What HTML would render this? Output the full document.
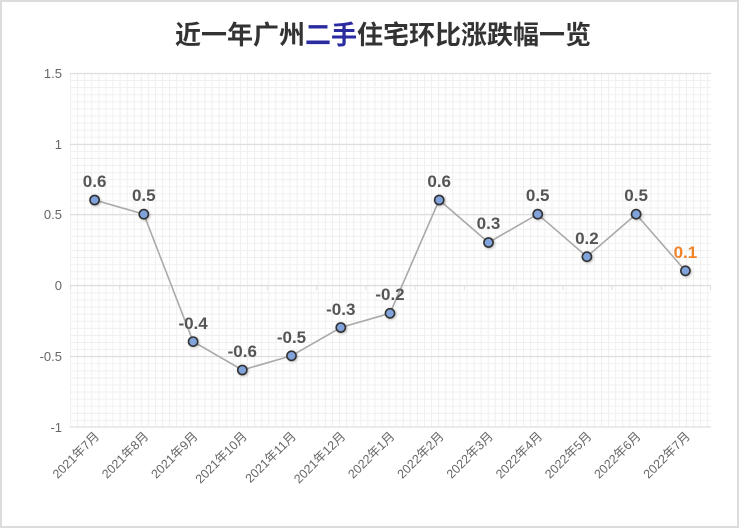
<!DOCTYPE html>
<html><head><meta charset="utf-8"><style>
html,body{margin:0;padding:0;background:#fff;}
svg{display:block;font-family:"Liberation Sans","Noto Sans CJK SC",sans-serif;}
</style></head><body>
<svg width="740" height="529" viewBox="0 0 740 529" xmlns="http://www.w3.org/2000/svg">
<defs>
<pattern id="g" x="70" y="73" width="7.08" height="7.08" patternUnits="userSpaceOnUse">
<path d="M0 0.5H7.08M0.5 0V7.08" stroke="#efefef" stroke-width="1" fill="none"/>
</pattern>
<filter id="sh" x="-50%" y="-50%" width="200%" height="200%"><feDropShadow dx="1" dy="1" stdDeviation="1" flood-color="#000" flood-opacity="0.25"/></filter>
</defs>
<rect x="1" y="1" width="737" height="526" fill="#fff" stroke="#dcdcdc" stroke-width="2"/>
<text x="383" y="44" text-anchor="middle" font-size="26" font-weight="bold" fill="#333" font-family="'Noto Sans CJK SC',sans-serif">近一年广州<tspan fill="#2b2ba0">二手</tspan>住宅环比涨跌幅一览</text>
<rect x="70" y="73" width="641" height="354" fill="url(#g)"/>
<g stroke="#dedede" stroke-width="1.2">
<line x1="70" y1="73.5" x2="711" y2="73.5"/>
<line x1="70" y1="144.5" x2="711" y2="144.5"/>
<line x1="70" y1="214.5" x2="711" y2="214.5"/>
<line x1="70" y1="285.5" x2="711" y2="285.5"/>
<line x1="70" y1="356.5" x2="711" y2="356.5"/>
<line x1="70" y1="427" x2="711" y2="427"/>
</g>
<g stroke="#dedede" stroke-width="1">
<line x1="70.5" y1="285" x2="70.5" y2="290"/><line x1="119.7" y1="285" x2="119.7" y2="290"/><line x1="168.9" y1="285" x2="168.9" y2="290"/><line x1="218.2" y1="285" x2="218.2" y2="290"/><line x1="267.4" y1="285" x2="267.4" y2="290"/><line x1="316.6" y1="285" x2="316.6" y2="290"/><line x1="365.9" y1="285" x2="365.9" y2="290"/><line x1="415.1" y1="285" x2="415.1" y2="290"/><line x1="464.3" y1="285" x2="464.3" y2="290"/><line x1="513.6" y1="285" x2="513.6" y2="290"/><line x1="562.8" y1="285" x2="562.8" y2="290"/><line x1="612" y1="285" x2="612" y2="290"/><line x1="661.3" y1="285" x2="661.3" y2="290"/><line x1="710.5" y1="285" x2="710.5" y2="290"/>
</g>
<g font-size="13" fill="#666" text-anchor="end">
<text x="62" y="78">1.5</text><text x="62" y="149">1</text><text x="62" y="219">0.5</text><text x="62" y="290">0</text><text x="62" y="361">-0.5</text><text x="62" y="432">-1</text>
</g>
<polyline fill="none" stroke="#aaa" stroke-width="1.6" points="94.6,200 143.8,214.2 193.1,341.6 242.3,370 291.5,355.8 340.8,327.5 390,313.3 439.2,200 488.5,242.5 537.7,214.2 586.9,256.7 636.1,214.2 685.4,270.8"/>
<g fill="#80a3dc" stroke="#333" stroke-width="1.6" filter="url(#sh)">
<circle cx="94.6" cy="200" r="4.6"/><circle cx="143.8" cy="214.2" r="4.6"/><circle cx="193.1" cy="341.6" r="4.6"/><circle cx="242.3" cy="370" r="4.6"/><circle cx="291.5" cy="355.8" r="4.6"/><circle cx="340.8" cy="327.5" r="4.6"/><circle cx="390" cy="313.3" r="4.6"/><circle cx="439.2" cy="200" r="4.6"/><circle cx="488.5" cy="242.5" r="4.6"/><circle cx="537.7" cy="214.2" r="4.6"/><circle cx="586.9" cy="256.7" r="4.6"/><circle cx="636.1" cy="214.2" r="4.6"/><circle cx="685.4" cy="270.8" r="4.6"/>
</g>
<g font-size="17" font-weight="bold" fill="#555" text-anchor="middle">
<text x="94.6" y="187">0.6</text><text x="143.8" y="201">0.5</text><text x="193.1" y="329">-0.4</text><text x="242.3" y="357">-0.6</text><text x="291.5" y="343">-0.5</text><text x="340.8" y="315">-0.3</text><text x="390" y="300">-0.2</text><text x="439.2" y="187">0.6</text><text x="488.5" y="229">0.3</text><text x="537.7" y="201">0.5</text><text x="586.9" y="244">0.2</text><text x="636.1" y="201">0.5</text><text x="685.4" y="258" fill="#f08228">0.1</text>
</g>
<g font-size="12.5" fill="#666" text-anchor="end">
<text transform="translate(100,437) rotate(-45)">2021年7月</text>
<text transform="translate(149.2,437) rotate(-45)">2021年8月</text>
<text transform="translate(198.5,437) rotate(-45)">2021年9月</text>
<text transform="translate(247.7,437) rotate(-45)">2021年10月</text>
<text transform="translate(296.9,437) rotate(-45)">2021年11月</text>
<text transform="translate(346.2,437) rotate(-45)">2021年12月</text>
<text transform="translate(395.4,437) rotate(-45)">2022年1月</text>
<text transform="translate(444.6,437) rotate(-45)">2022年2月</text>
<text transform="translate(493.9,437) rotate(-45)">2022年3月</text>
<text transform="translate(543.1,437) rotate(-45)">2022年4月</text>
<text transform="translate(592.3,437) rotate(-45)">2022年5月</text>
<text transform="translate(641.5,437) rotate(-45)">2022年6月</text>
<text transform="translate(690.8,437) rotate(-45)">2022年7月</text>
</g>
</svg>
</body></html>
